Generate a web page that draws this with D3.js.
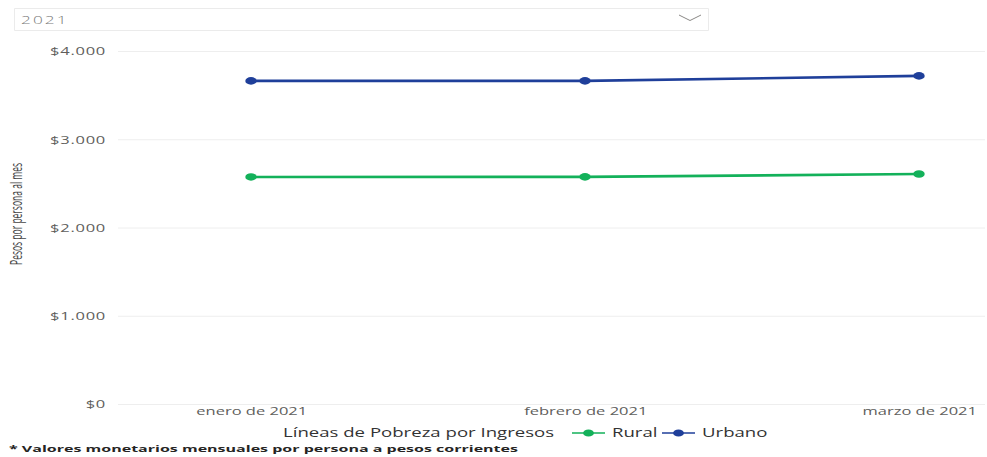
<!DOCTYPE html>
<html>
<head>
<meta charset="utf-8">
<script src="https://cdn.jsdelivr.net/npm/d3@7"></script>
<style>
  html, body { margin: 0; padding: 0; background: #fff; }
  svg { display: block; }
  text { font-family: "Open Sans", "Noto Sans", sans-serif; }
</style>
</head>
<body>
<script>
// Líneas de pobreza por ingresos, 2021 (pesos por persona al mes)
const months = ["enero de 2021", "febrero de 2021", "marzo de 2021"];
const rural = [2573, 2574, 2606];
const urbano = [3661, 3662, 3718];
const yTicks = [0, 1000, 2000, 3000, 4000];
const seriesNames = ["Rural", "Urbano"];
const seriesColors = ["#13b15a", "#1f3f9a"];

const W = 987, H = 457;
const SX = 1.5;              // horizontal stretch of the drawing
const VW = W / SX;           // drawing units wide
const X = v => v / SX;       // page px -> drawing units

const svg = d3.select("body").append("svg")
  .attr("width", W).attr("height", H)
  .attr("viewBox", `0 0 ${VW} ${H}`)
  .attr("preserveAspectRatio", "none");

// Year selector
svg.append("rect")
  .attr("x", X(14.5)).attr("y", 8.5).attr("width", X(694)).attr("height", 22)
  .attr("fill", "#fff").attr("stroke", "#ebebeb").attr("stroke-width", 1)
  .attr("vector-effect", "non-scaling-stroke");
svg.append("text").attr("x", X(21)).attr("y", 24.5)
  .attr("font-size", 11.5).attr("letter-spacing", 1.4).attr("fill", "#7a7a7a")
  .attr("font-weight", 300).text("2021");
svg.append("path")
  .attr("d", `M${X(679)},15 L${X(690)},20.5 L${X(701)},15`)
  .attr("fill", "none").attr("stroke", "#8a8886").attr("stroke-width", 1)
  .attr("vector-effect", "non-scaling-stroke");

// Scales
const x = d3.scalePoint().domain(months).range([X(251), X(919)]);
const y = d3.scaleLinear().domain([0, 4000]).range([404, 51]);
const gridX0 = X(118), gridX1 = X(985);

// Gridlines + y tick labels
const yAxis = d3.axisLeft(y).tickValues(yTicks)
  .tickSize(-(gridX1 - gridX0)).tickPadding(gridX0 - X(106))
  .tickFormat(d => "$" + d3.format(",")(d).replace(/,/g, "."));
const gy = svg.append("g").attr("transform", `translate(${gridX0},0)`).call(yAxis);
gy.select(".domain").remove();
gy.selectAll(".tick line").attr("stroke", "#eeeeee").attr("stroke-width", 1)
  .attr("vector-effect", "non-scaling-stroke");
gy.selectAll(".tick text").attr("font-size", 11).attr("fill", "#605e5c")
  .attr("letter-spacing", 0.5)
  .attr("font-family", "'Open Sans', sans-serif").attr("dy", "0.35em");

// X axis labels
const xAxis = d3.axisBottom(x).tickSize(0).tickPadding(0);
const gx = svg.append("g").attr("transform", "translate(0,404)").call(xAxis);
gx.select(".domain").remove();
gx.selectAll(".tick text").attr("font-size", 11).attr("fill", "#605e5c")
  .attr("font-family", "'Open Sans', sans-serif").attr("dy", "0").attr("y", 11);

// Y axis title
svg.append("text")
  .attr("transform", `translate(${X(21.5)},214) rotate(-90)`)
  .attr("text-anchor", "middle").attr("font-size", 10.5).attr("fill", "#444")
  .attr("textLength", 102).attr("lengthAdjust", "spacingAndGlyphs")
  .text("Pesos por persona al mes");

// Lines and markers
const series = [rural, urbano];
const line = d3.line().x((d, i) => x(months[i])).y(d => y(d));
series.forEach((vals, s) => {
  svg.append("path").datum(vals).attr("d", line)
    .attr("fill", "none").attr("stroke", seriesColors[s]).attr("stroke-width", 2.6);
  svg.selectAll(null).data(vals).enter().append("circle")
    .attr("cx", (d, i) => x(months[i])).attr("cy", d => y(d)).attr("r", 3.8)
    .attr("fill", seriesColors[s]);
});

// Legend
const legY = 437;
svg.append("text").attr("x", X(283)).attr("y", legY)
  .attr("font-size", 12.4).attr("fill", "#333").text("Líneas de Pobreza por Ingresos");
const legItems = [
  { x0: X(572), name: seriesNames[0], color: seriesColors[0] },
  { x0: X(662), name: seriesNames[1], color: seriesColors[1] }
];
legItems.forEach(it => {
  const g = svg.append("g");
  g.append("line").attr("x1", it.x0).attr("x2", it.x0 + X(33))
    .attr("y1", legY - 4).attr("y2", legY - 4)
    .attr("stroke", it.color).attr("stroke-width", 1.6);
  g.append("circle").attr("cx", it.x0 + X(16.5)).attr("cy", legY - 4).attr("r", 3.6)
    .attr("fill", it.color);
  g.append("text").attr("x", it.x0 + X(40)).attr("y", legY)
    .attr("font-size", 12.4).attr("fill", "#333").text(it.name);
});

// Footnote
svg.append("text").attr("x", X(9)).attr("y", 452)
  .attr("font-family", "'DejaVu Sans', sans-serif")
  .attr("font-size", 9.2).attr("font-weight", "bold").attr("fill", "#252423")
  .attr("textLength", X(509)).attr("lengthAdjust", "spacingAndGlyphs")
  .text("* Valores monetarios mensuales por persona a pesos corrientes");
</script>
</body>
</html>
